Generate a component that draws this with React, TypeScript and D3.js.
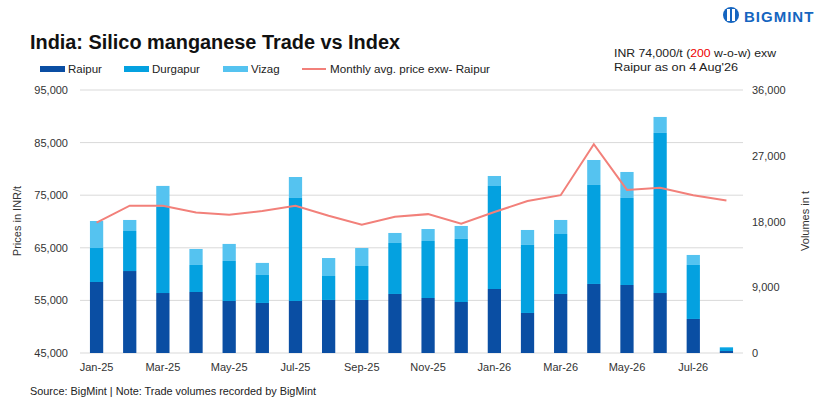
import * as d3 from 'd3'

const months = ['Jan-25','Feb-25','Mar-25','Apr-25','May-25','Jun-25','Jul-25','Aug-25','Sep-25','Oct-25','Nov-25','Dec-25','Jan-26','Feb-26','Mar-26','Apr-26','May-26','Jun-26','Jul-26','Aug-26']
const raipur = [9720,11220,8210,8350,7120,6850,7120,7260,7260,8080,7530,6980,8760,5480,8080,9450,9310,8210,4660,270]
const durgapur = [4650,5480,11790,3700,5480,3830,14100,3280,4650,6980,7800,8630,14100,9310,8210,13550,11910,21910,7390,410]
const vizag = [3700,1510,2870,2190,2330,1650,2870,2460,2460,1370,1640,1780,1370,2050,1920,3420,3560,2190,1370,140]
const price = [69800,73000,73000,71700,71300,72000,73000,71100,69400,70900,71400,69600,71800,73900,75000,84700,76000,76400,75000,74000]
const priceTicks = [45000,55000,65000,75000,85000,95000]
const volTicks = [0,9000,18000,27000,36000]
const tickMonths = months.filter((_, i) => i % 2 === 0)

const colors = { raipur: '#0a4ea3', durgapur: '#04a1e0', vizag: '#55c3f0', line: '#f2807a' }
const font = "'Liberation Sans', Arial, sans-serif"

export default function App() {
  const W = 829, H = 407
  const left = 80, right = 743, top = 90, bottom = 353
  const x = d3.scaleBand<string>().domain(months).range([left, right]).paddingInner(0.6).paddingOuter(0.3)
  const yP = d3.scaleLinear().domain([45000, 95000]).range([bottom, top])
  const yV = d3.scaleLinear().domain([0, 36000]).range([bottom, top])
  const fmt = d3.format(',')
  const stacks = d3.stack<number>().keys(['r', 'd', 'v'])
    .value((i, k) => (k === 'r' ? raipur[i] : k === 'd' ? durgapur[i] : vizag[i]))(months.map((_, i) => i))
  const fills = [colors.raipur, colors.durgapur, colors.vizag]
  const line = d3.line<number>().x((_, i) => x(months[i])! + x.bandwidth() / 2).y(d => yP(d))
  const legend: [string, string, number][] = [
    ['Raipur', colors.raipur, 40], ['Durgapur', colors.durgapur, 124], ['Vizag', colors.vizag, 223]
  ]

  return (
    <svg width={W} height={H} style={{ position: 'absolute', left: 0, top: 0, fontFamily: font }}>
      <rect width={W} height={H} fill="#fff" />
      <text x={30} y={49} fontSize={20} fontWeight="bold" fill="#111" textLength={370} lengthAdjust="spacingAndGlyphs">India: Silico manganese Trade vs Index</text>
      <g transform="translate(723,5)">
        <circle cx={8} cy={10} r={8} fill="#1565c0" />
        <rect x={4} y={4} width={3} height={12} fill="#fff" />
        <rect x={9} y={4} width={3} height={12} fill="#fff" />
        <text x={21} y={17} fontSize={15} fontWeight="bold" fill="#1565c0" letterSpacing={1}>BIGMINT</text>
      </g>
      <text x={614} y={57} fontSize={11.5} fill="#222" textLength={162} lengthAdjust="spacingAndGlyphs">INR 74,000/t (<tspan fill="#e00">200</tspan> w-o-w) exw</text>
      <text x={614} y={71} fontSize={11.5} fill="#222" textLength={124} lengthAdjust="spacingAndGlyphs">Raipur as on 4 Aug'26</text>
      {legend.map(([t, c, lx]) => (
        <g key={t}>
          <rect x={lx} y={66} width={25} height={6} fill={c} />
          <text x={lx + 28} y={73} fontSize={11.5} fill="#222">{t}</text>
        </g>
      ))}
      <line x1={302} x2={326} y1={69} y2={69} stroke={colors.line} strokeWidth={2} />
      <text x={330} y={73} fontSize={11.5} fill="#222" textLength={160} lengthAdjust="spacingAndGlyphs">Monthly avg. price exw- Raipur</text>
      {priceTicks.map(t => (
        <g key={t}>
          <line x1={left} x2={right} y1={yP(t)} y2={yP(t)} stroke="#d9d9d9" />
          <text x={68} y={yP(t) + 4} fontSize={11} textAnchor="end" fill="#333">{fmt(t)}</text>
        </g>
      ))}
      {volTicks.map(t => (
        <text key={t} x={752} y={yV(t) + 4} fontSize={11} fill="#333">{fmt(t)}</text>
      ))}
      <text transform="translate(21,221) rotate(-90)" fontSize={11} textAnchor="middle" fill="#333">Prices in INR/t</text>
      <text transform="translate(809,221) rotate(-90)" fontSize={11} textAnchor="middle" fill="#333">Volumes in t</text>
      {stacks.map((s, si) => (
        <g key={si}>
          {s.map((d, i) => (
            <rect key={i} x={x(months[i])} width={x.bandwidth()} y={yV(d[1])} height={yV(d[0]) - yV(d[1])} fill={fills[si]} />
          ))}
        </g>
      ))}
      <path d={line(price)!} fill="none" stroke={colors.line} strokeWidth={2} />
      {tickMonths.map(m => (
        <text key={m} x={x(m)! + x.bandwidth() / 2} y={371} fontSize={11} textAnchor="middle" fill="#333">{m}</text>
      ))}
      <text x={30} y={395} fontSize={11} fill="#222" textLength={286} lengthAdjust="spacingAndGlyphs">Source: BigMint | Note: Trade volumes recorded by BigMint</text>
    </svg>
  )
}
